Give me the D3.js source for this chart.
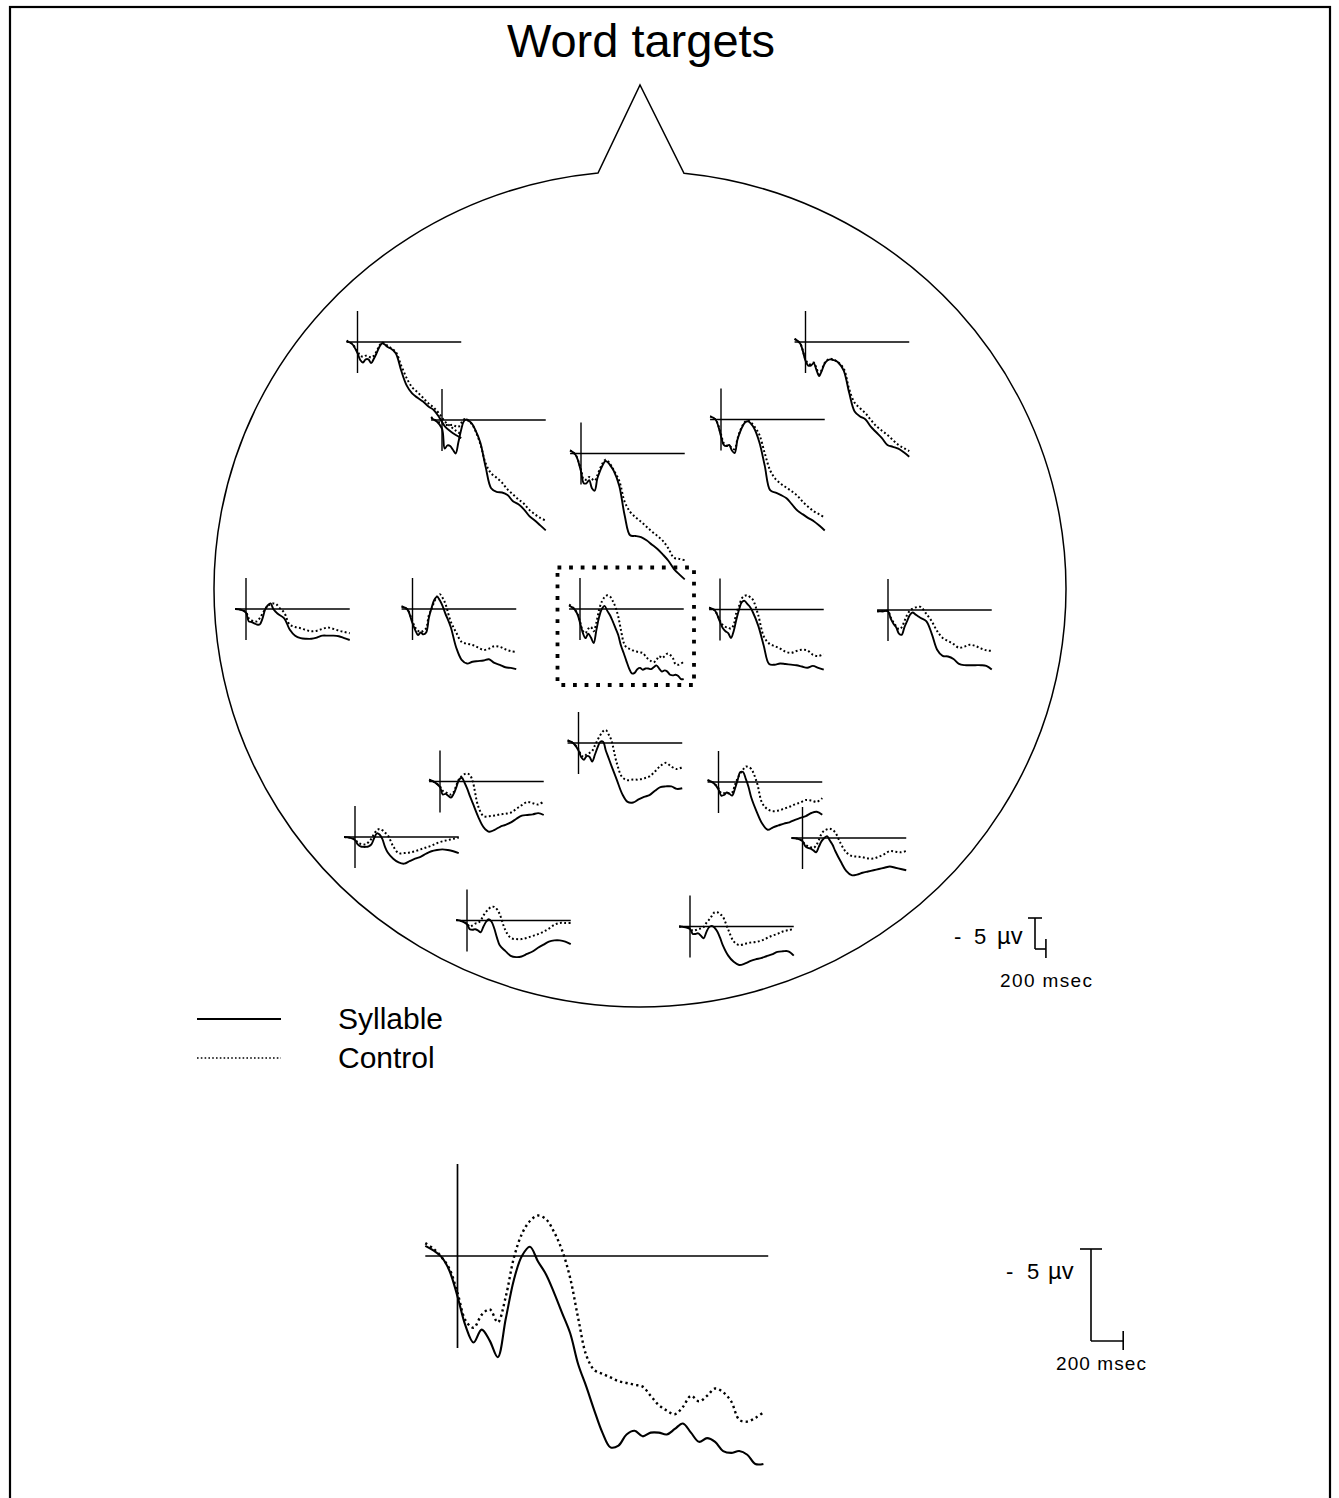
<!DOCTYPE html>
<html>
<head>
<meta charset="utf-8">
<script src="https://cdn.jsdelivr.net/npm/d3@7"></script>
<style>
  html, body { margin: 0; padding: 0; background: #fff; }
  text { font-family: "Liberation Sans", Arial, Helvetica, sans-serif; fill: #000; }
</style>
</head>
<body>
<svg id="fig" width="1339" height="1498"></svg>
<script>
// ---------- data (µV, negative plotted upward) ----------
// sample times (ms) for the scalp sites
const siteTimes = [-200,-100,0,50,100,150,200,250,300,350,400,450,500,550,600,
                   700,800,900,1000,1100,1200,1300,1400,1500,1600,1700,1800,1900];
// sample times (ms) for Cz, also shown enlarged
const czTimes = [-200,-150,-100,-50,0,50,100,150,200,250,300,350,400,450,500,550,600,650,700,750,
                 800,850,900,950,1000,1050,1100,1150,1200,1250,1300,1350,1400,1450,1500,1550,
                 1600,1650,1700,1750,1800,1850,1900];

const siteNames = ["F7","F8","F3","Fz","F4","T3","C3","Cz","C4","T4","P3","Pz","P4","T5","T6","O1","O2"];

const syllableF7 = [-0.1,0.3,1.8,2.9,3.3,2.8,2.8,3.4,2.7,1.8,0.8,0.2,0.4,0.8,1.0,1.8,4.6,7.0,8.3,9.0,9.6,10.4,11.0,12.2,13.6,14.4,15.0,15.5];
const controlF7  = [-0.2,0.3,1.5,2.2,2.4,2.2,2.3,2.5,2.2,1.5,0.6,0.1,0.3,0.6,0.9,1.6,3.8,5.8,7.3,8.1,9.0,9.9,10.6,11.6,12.8,13.6,14.3,14.9];
const syllableF8 = [-0.5,0.2,3.0,3.8,3.8,3.4,4.5,5.5,4.6,3.5,3.0,2.8,2.9,3.0,3.3,4.6,8.2,11.2,12.0,12.5,13.7,14.6,15.5,16.6,16.9,17.2,17.8,18.5];
const controlF8  = [-0.5,0.2,2.8,3.5,3.6,3.3,4.2,5.2,4.4,3.4,2.9,2.7,2.8,3.0,3.3,4.3,7.6,9.8,10.7,11.5,12.6,13.6,14.3,15.0,15.8,16.6,17.1,17.6];
const syllableF3 = [-0.3,0.2,1.4,4.6,4.1,4.2,4.8,5.4,3.6,1.6,0.2,-0.1,0.2,0.6,1.4,3.6,7.6,11.0,11.6,11.7,12.1,13.1,13.6,14.4,15.5,16.2,17.0,17.8];
const controlF3  = [-0.5,0.2,0.5,0.8,0.8,0.8,0.8,1.0,1.1,0.5,-0.1,-0.1,0.3,0.7,1.5,3.8,7.0,8.6,9.3,10.1,11.2,12.0,12.8,13.5,14.5,15.2,15.8,16.2];
const syllableFz = [-0.5,0.2,2.9,4.8,4.8,4.3,5.6,6.0,4.0,2.8,1.8,1.2,1.5,2.1,2.8,5.2,10.0,13.2,13.3,13.5,14.0,14.7,15.4,16.3,17.3,18.6,19.5,20.3];
const controlFz  = [-0.5,0.2,2.6,4.2,4.2,3.8,4.1,4.4,3.5,2.4,1.5,1.0,1.3,1.9,2.7,4.4,7.8,9.4,10.3,11.0,11.8,12.6,13.3,14.1,15.3,16.8,17.0,17.2];
const syllableF4 = [-0.5,0.0,2.7,4.1,4.3,4.1,5.0,5.4,3.3,2.0,1.0,0.4,0.3,0.7,1.3,3.6,7.4,11.4,11.8,12.2,12.7,13.7,14.7,15.3,15.9,16.4,17.1,17.9];
const controlF4  = [-0.5,0.0,2.4,3.8,4.2,4.2,4.6,4.8,3.2,1.8,0.9,0.3,0.2,0.5,1.0,2.4,5.4,8.2,9.6,10.4,11.0,11.6,12.3,13.3,14.1,14.8,15.3,15.8];
const syllableT3 = [0.0,0.1,0.6,2.0,2.1,2.3,2.5,2.5,1.6,0.1,-0.6,-0.9,0.0,0.5,0.9,1.5,3.3,4.3,4.7,4.8,4.8,4.6,4.3,4.3,4.3,4.4,4.7,5.0];
const controlT3  = [0.0,0.1,0.5,1.5,1.8,2.0,2.0,1.5,0.8,0.0,-0.5,-0.8,-0.9,-0.8,-0.3,0.6,2.5,2.9,3.1,3.4,3.6,3.5,3.2,3.0,3.2,3.5,3.7,3.9];
const syllableC3 = [-0.4,0.0,2.3,3.4,4.2,3.8,4.1,3.8,1.4,-0.2,-1.5,-2.0,-1.4,-0.5,0.7,2.9,6.2,8.2,8.8,8.5,8.4,8.3,8.1,8.7,9.0,9.4,9.5,9.7];
const controlC3  = [-0.4,0.0,2.0,3.0,3.5,3.7,3.5,3.1,1.0,0.0,-1.2,-2.0,-2.4,-1.8,-0.9,2.0,3.8,5.3,5.6,5.8,6.2,6.6,6.4,6.0,6.1,6.5,6.8,6.9];
const syllableCz = [-0.55,-0.3,0.05,0.8,2.2,3.8,4.7,4.0,4.6,5.5,3.4,1.3,0.0,-0.5,0.3,1.0,2.0,3.1,4.2,5.9,7.1,8.4,9.6,10.4,10.3,9.7,9.5,9.8,9.6,9.6,9.7,9.4,9.1,9.6,10.1,9.9,10.1,10.6,10.7,10.6,10.8,11.3,11.3];
const controlCz  = [-0.7,-0.4,0.05,0.7,2.0,3.5,3.9,3.2,2.9,3.6,2.2,0.1,-1.2,-1.9,-2.2,-2.0,-1.3,-0.3,1.2,3.4,5.4,6.2,6.4,6.6,6.8,6.9,7.0,7.1,7.6,8.1,8.4,8.6,8.2,7.6,7.9,7.6,7.2,7.4,7.9,8.9,9.0,8.8,8.5];
const syllableC4 = [-0.3,0.1,2.0,3.0,3.5,3.8,4.6,3.5,1.6,0.0,-1.2,-1.4,-0.9,-0.4,0.4,2.6,5.8,8.8,8.9,8.7,8.8,8.9,9.0,9.2,9.4,9.1,9.4,9.7];
const controlC4  = [-0.3,0.1,1.8,2.5,2.8,2.9,3.1,2.5,0.5,-0.6,-1.8,-2.2,-2.3,-2.0,-1.6,0.9,4.3,5.5,5.9,6.3,6.8,7.0,6.7,6.5,6.6,7.3,7.5,7.2];
const syllableT4 = [0.2,0.2,0.2,1.4,2.2,2.8,3.8,4.0,2.8,1.8,0.8,0.4,0.7,1.0,1.3,1.8,3.8,6.4,7.4,7.5,7.9,8.7,8.9,8.9,8.9,8.9,9.0,9.6];
const controlT4  = [0.2,0.2,0.2,1.2,2.0,2.6,3.1,2.8,1.8,0.8,0.1,-0.2,-0.4,-0.5,-0.5,0.6,1.8,3.4,4.5,5.0,5.5,6.1,5.9,5.6,5.8,6.2,6.5,6.6];
const syllableP3 = [-0.3,0.1,0.9,2.1,2.0,2.3,2.6,2.0,0.9,-0.3,-0.6,0.2,1.2,2.4,3.5,5.7,7.4,8.1,7.8,7.3,7.0,6.6,6.0,5.5,5.4,5.3,5.1,5.4];
const controlP3  = [-0.3,0.1,0.8,1.5,1.7,2.0,2.1,1.7,0.6,-0.4,-0.9,-1.2,-1.3,-1.0,0.0,4.0,5.6,5.6,5.5,5.3,5.2,5.0,4.4,3.8,3.3,3.5,3.7,3.2];
const syllablePz = [-0.4,0.0,1.2,2.3,2.7,2.1,2.2,3.0,1.9,0.7,-0.2,-0.2,1.2,2.4,3.6,5.9,8.2,9.5,9.6,9.1,8.7,8.4,7.7,7.1,7.0,7.0,7.4,7.3];
const controlPz  = [-0.4,0.0,1.0,2.0,2.2,1.8,1.6,1.3,0.4,-0.5,-1.3,-1.9,-2.1,-1.4,-0.5,3.2,5.5,6.0,5.9,5.9,5.7,5.4,4.6,3.7,3.2,3.8,4.2,3.9];
const syllableP4 = [-0.3,0.1,1.2,2.2,2.1,1.7,1.9,2.2,1.1,-0.3,-1.6,-1.6,-0.5,0.8,2.5,4.8,6.7,7.7,7.3,7.0,6.7,6.5,6.1,5.8,5.5,5.0,4.8,5.3];
const controlP4  = [-0.3,0.1,1.0,1.8,1.8,1.8,1.8,1.7,0.5,-0.6,-1.4,-2.0,-2.5,-2.4,-2.1,0.0,3.4,4.4,4.7,4.6,4.3,4.0,3.6,3.3,2.9,3.0,3.2,2.6];
const syllableT5 = [0.0,0.1,0.5,1.2,1.5,1.6,1.6,1.5,1.2,0.2,-0.6,-0.4,0.3,1.6,2.5,3.5,4.1,4.3,3.9,3.5,3.2,2.7,2.3,2.1,2.0,2.1,2.3,2.6];
const controlT5  = [0.0,0.1,0.4,0.9,1.1,1.2,1.2,0.8,0.3,-0.5,-1.1,-1.3,-1.1,-0.7,-0.3,1.5,2.6,2.6,2.5,2.3,2.0,1.7,1.4,1.0,0.7,0.5,0.3,0.1];
const syllableT6 = [0.0,0.1,0.5,1.3,1.6,1.7,2.0,2.3,1.4,0.5,0.0,-0.3,0.4,1.1,2.1,3.8,5.3,6.0,5.9,5.6,5.4,5.2,5.0,4.8,4.6,4.8,5.0,5.2];
const controlT6  = [0.0,0.1,0.5,1.1,1.3,1.5,1.6,1.2,0.3,-0.7,-1.2,-1.4,-1.5,-1.3,-0.9,0.9,2.3,2.9,3.0,3.1,3.3,3.3,3.0,2.6,2.1,2.2,2.3,2.1];
const syllableO1 = [-0.1,0.1,0.6,1.4,1.5,1.4,1.6,1.9,1.0,0.2,-0.2,0.2,1.3,2.8,4.0,4.9,5.7,5.9,5.8,5.4,5.0,4.4,3.9,3.4,3.2,3.2,3.4,3.8];
const controlO1  = [-0.1,0.1,0.5,1.0,0.8,0.5,0.4,0.0,-0.8,-1.4,-1.9,-2.2,-2.2,-1.8,-1.0,1.5,2.8,3.0,3.0,2.8,2.5,2.2,1.8,1.3,0.7,0.4,0.4,0.4];
const syllableO2 = [0.0,0.1,0.4,1.2,1.2,1.1,1.5,1.9,0.9,0.1,-0.1,0.2,0.8,1.8,3.0,4.7,5.7,6.2,6.0,5.6,5.3,5.1,4.8,4.5,4.1,4.0,4.0,4.7];
const controlO2  = [0.0,0.1,0.3,0.7,0.6,0.4,0.3,0.1,-0.6,-1.1,-1.7,-2.3,-2.3,-2.0,-1.6,0.5,2.4,3.0,2.8,2.6,2.5,2.3,1.9,1.5,1.2,0.8,0.6,0.4];

const legendLabels = ["Syllable", "Control"];
const scaleLabels = ["- 5 µv", "200 msec"];

// per-site table built from the arrays above
const traces = {
  F7: [syllableF7, controlF7], F8: [syllableF8, controlF8],
  F3: [syllableF3, controlF3], Fz: [syllableFz, controlFz], F4: [syllableF4, controlF4],
  T3: [syllableT3, controlT3], C3: [syllableC3, controlC3], Cz: [syllableCz, controlCz],
  C4: [syllableC4, controlC4], T4: [syllableT4, controlT4],
  P3: [syllableP3, controlP3], Pz: [syllablePz, controlPz], P4: [syllableP4, controlP4],
  T5: [syllableT5, controlT5], T6: [syllableT6, controlT6],
  O1: [syllableO1, controlO1], O2: [syllableO2, controlO2]
};

// ---------- layout ----------
const W = 1339, H = 1498;
// stimulus-onset / zero-µV anchor of each scalp plot
const anchor = {
  F7: [357.5, 342], F8: [805.5, 342],
  F3: [442, 420], Fz: [581, 453.5], F4: [721, 419.5],
  T3: [246, 609], C3: [412.5, 609], Cz: [580, 609], C4: [720, 609.5], T4: [888, 610],
  P3: [440, 781.5], Pz: [578.5, 743], P4: [718.5, 782],
  T5: [355, 837], T6: [802.5, 838],
  O1: [467, 920.5], O2: [690, 926.5]
};
const small = { pxPerMs: 0.0546, pxPerUv: 6.2 };
const big = { pxPerMs: 0.161, pxPerUv: 18.4, x0: 457.5, y0: 1256 };
const tStart = -200, tEnd = 1900;

const svg = d3.select("#fig");
svg.append("rect").attr("width", W).attr("height", H).attr("fill", "#fff");

// figure frame
svg.append("rect")
  .attr("x", 10).attr("y", 7).attr("width", 1320).attr("height", 1510)
  .attr("fill", "none").attr("stroke", "#000").attr("stroke-width", 2.2);

// title
svg.append("text")
  .attr("x", 641).attr("y", 57)
  .attr("text-anchor", "middle")
  .attr("font-size", 47)
  .text("Word targets");

// head outline with nose
const head = { cx: 640, cy: 589, rx: 426, ry: 418 };
const nose = { apexX: 640, apexY: 85, leftX: 598, rightX: 684 };
function headY(x) {
  const dx = (x - head.cx) / head.rx;
  return head.cy - head.ry * Math.sqrt(1 - dx * dx);
}
const rb = [nose.rightX, headY(nose.rightX)];
const lb = [nose.leftX, headY(nose.leftX)];
svg.append("path")
  .attr("d", `M${rb[0]},${rb[1]} A${head.rx},${head.ry} 0 1 1 ${lb[0]},${lb[1]} L${nose.apexX},${nose.apexY} Z`)
  .attr("fill", "none").attr("stroke", "#000").attr("stroke-width", 1.5);

// ---------- ERP plot drawer ----------
function drawErp(g, x0, y0, geom, times, syl, ctl, lw) {
  const x = d3.scaleLinear().domain([0, 1]).range([x0, x0 + geom.pxPerMs]);
  const y = d3.scaleLinear().domain([0, 1]).range([y0, y0 + geom.pxPerUv]);
  // baseline (0 µV) and onset marker spanning ±5 µV
  g.append("line")
    .attr("x1", x(tStart)).attr("x2", x(tEnd + (geom === big ? 30 : 0)))
    .attr("y1", y(0)).attr("y2", y(0))
    .attr("stroke", "#000").attr("stroke-width", lw.axis);
  g.append("line")
    .attr("x1", x(0)).attr("x2", x(0))
    .attr("y1", y(-5)).attr("y2", y(5))
    .attr("stroke", "#000").attr("stroke-width", lw.axis);
  const line = d3.line()
    .x((d, i) => x(times[i]))
    .y(d => y(d))
    .curve(d3.curveCatmullRom.alpha(0.5));
  g.append("path").attr("d", line(ctl))
    .attr("fill", "none").attr("stroke", "#000")
    .attr("stroke-width", lw.dot).attr("stroke-dasharray", lw.dash)
    .attr("stroke-linecap", "butt");
  g.append("path").attr("d", line(syl))
    .attr("fill", "none").attr("stroke", "#000")
    .attr("stroke-width", lw.solid).attr("stroke-linejoin", "round");
}

const smallLw = { axis: 1.4, solid: 1.9, dot: 2.0, dash: "1.9,2.4" };
const bigLw = { axis: 1.7, solid: 2.1, dot: 2.4, dash: "2.3,3.2" };

const plots = svg.append("g");
siteNames.forEach(name => {
  const [x0, y0] = anchor[name];
  const times = name === "Cz" ? czTimes : siteTimes;
  drawErp(plots.append("g"), x0, y0, small, times, traces[name][0], traces[name][1], smallLw);
});

// dotted frame around Cz
svg.append("rect")
  .attr("x", 557.5).attr("y", 567.5).attr("width", 136.5).attr("height", 117.5)
  .attr("fill", "none").attr("stroke", "#000").attr("stroke-width", 3.8)
  .attr("stroke-dasharray", "3.8,7.8");

// enlarged Cz
drawErp(svg.append("g"), big.x0, big.y0, big, czTimes, syllableCz, controlCz, bigLw);

// ---------- calibration bars ----------
function calBar(g, xv, yb, geom, barHalf, tickHalf, lab) {
  const x = d3.scaleLinear().domain([0, 1]).range([xv, xv + geom.pxPerMs]);
  const y = d3.scaleLinear().domain([0, 1]).range([yb, yb + geom.pxPerUv]);
  const seg = (x1, y1, x2, y2) => g.append("line")
    .attr("x1", x1).attr("y1", y1).attr("x2", x2).attr("y2", y2)
    .attr("stroke", "#000").attr("stroke-width", 1.6);
  seg(x(0), y(-5), x(0), y(0));
  seg(x(0) - barHalf, y(-5), x(0) + barHalf, y(-5));
  seg(x(0), y(0), x(200), y(0));
  seg(x(200), y(0) - tickHalf, x(200), y(0) + tickHalf * 0.9);
  // "- 5 µv"
  const t = g.append("text").attr("font-size", lab.fs).attr("y", lab.y);
  t.append("tspan").attr("x", lab.minusX).text(scaleLabels[0].slice(0, 1));
  t.append("tspan").attr("x", lab.fiveX).text(scaleLabels[0].slice(2, 3));
  t.append("tspan").attr("x", lab.unitX).attr("font-size", lab.fs * 1.08).text(scaleLabels[0].slice(4));
  g.append("text").attr("font-size", lab.msFs).attr("x", lab.msX).attr("y", lab.msY)
    .attr("textLength", lab.msecLen).attr("lengthAdjust", "spacing")
    .text(scaleLabels[1]);
}
calBar(svg.append("g"), 1035, 949, small, 7, 10,
  { fs: 22, y: 944, minusX: 954, fiveX: 974, unitX: 997, msFs: 19, msX: 1000, msY: 987, msecLen: 92 });
calBar(svg.append("g"), 1091, 1341, big, 11, 10,
  { fs: 22, y: 1279, minusX: 1006, fiveX: 1027, unitX: 1048, msFs: 19, msX: 1056, msY: 1370, msecLen: 90 });

// ---------- legend ----------
const legend = svg.append("g");
[[1019, null], [1058, "1.6,2.2"]].forEach(([ly, dash], i) => {
  const l = legend.append("line")
    .attr("x1", 197).attr("x2", 281).attr("y1", ly).attr("y2", ly)
    .attr("stroke", "#000").attr("stroke-width", dash ? 1.6 : 1.9);
  if (dash) l.attr("stroke-dasharray", dash);
  legend.append("text").attr("x", 338).attr("y", ly + 10).attr("font-size", 30)
    .text(legendLabels[i]);
});
</script>
</body>
</html>
